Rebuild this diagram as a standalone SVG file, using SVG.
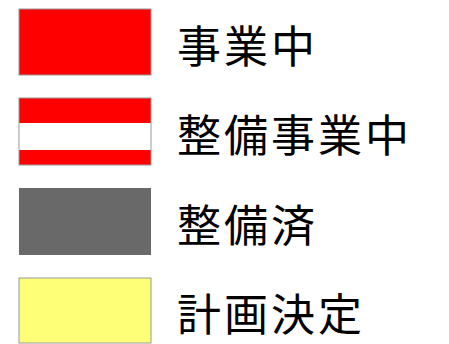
<svg xmlns="http://www.w3.org/2000/svg" width="449" height="344" viewBox="0 0 449 344">
<style>
.sw{stroke:#9a9a9a;stroke-width:1}
.lbl{font-family:"Noto Sans CJK JP","Noto Sans CJK SC",sans-serif;font-size:44px;fill:#000;letter-spacing:3px}
</style>
<rect width="449" height="344" fill="#fff"/>
<g id="item-jigyochu">
<rect class="sw" x="19" y="9" width="132" height="66" fill="#ff0000"/>
<text class="lbl" x="177" y="63">事業中</text>
</g>
<g id="item-seibijigyochu">
<rect x="19" y="98" width="132" height="67" fill="#ffffff"/>
<rect x="19" y="98" width="132" height="25" fill="#ff0000"/>
<rect x="19" y="150" width="132" height="15" fill="#ff0000"/>
<rect class="sw" x="19" y="98" width="132" height="67" fill="none"/>
<text class="lbl" x="177" y="152">整備事業中</text>
</g>
<g id="item-seibizumi">
<rect x="19" y="188" width="132" height="67" fill="#696969"/>
<text class="lbl" x="177" y="242">整備済</text>
</g>
<g id="item-keikakukettei">
<rect class="sw" x="19" y="278" width="132" height="65" fill="#ffff77"/>
<text class="lbl" x="177" y="331">計画決定</text>
</g>
<g id="connectors"/>
</svg>
